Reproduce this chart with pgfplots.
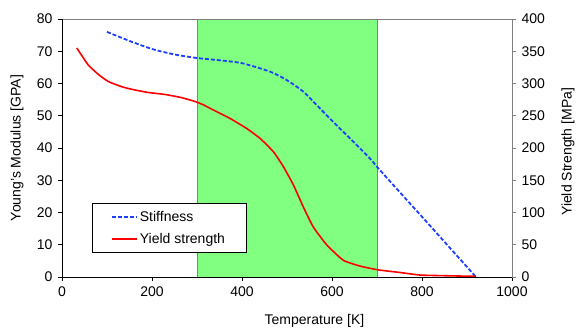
\documentclass[border=0pt]{standalone}
\usepackage{fontspec}
\setmainfont{Liberation Sans}
\usepackage{pgfplots}
\pgfplotsset{compat=1.18}
\definecolor{stiffblue}{HTML}{1F3FFF}
\definecolor{ysred}{HTML}{FF0000}
\definecolor{zonegreen}{HTML}{80FF80}
\definecolor{zoneedge}{HTML}{6A84B8}
\definecolor{axgray}{HTML}{808080}
\begin{document}
\begin{tikzpicture}
\path[use as bounding box] (-62pt,-51pt) rectangle (514pt,277pt);
\begin{axis}[
  scale only axis, width=450pt, height=258pt,
  xmin=0, xmax=1000, ymin=0, ymax=80,
  axis x line*=bottom, axis y line*=left,
  xtick={0,200,...,1000}, ytick={0,10,...,80},
  tick align=outside, major tick length=4pt,
  tick style={black, line width=0.6pt},
  axis line style={black, line width=0.8pt},
  /pgf/number format/assume math mode=true,
  /pgf/number format/1000 sep={},
  ticklabel style={font=\fontsize{14}{16}\selectfont},
  xticklabel style={yshift=-2pt},
  yticklabel style={xshift=-2pt},
  every axis x label/.style={at={(axis description cs:0.561,-0.1705)}, anchor=center, font=\fontsize{14}{16}\selectfont},
  every axis y label/.style={at={(axis description cs:-0.1,0.5)}, rotate=90, anchor=center, font=\fontsize{14}{16}\selectfont},
  xlabel={Temperature [K]},
  ylabel={Young's Modulus [GPA]},
  axis on top,
  clip=false,
]
\addplot[fill=zonegreen, draw=none, forget plot] coordinates {(300,0) (300,80) (700,80) (700,0)} --cycle;
\addplot[zoneedge, line width=1pt, forget plot] coordinates {(300,0) (300,80)};
\addplot[zoneedge, line width=1pt, forget plot] coordinates {(700,0) (700,80)};
\draw[axgray, line width=0.8pt] (rel axis cs:0,1) -- (rel axis cs:1,1);
\addplot[stiffblue, line width=1.8pt, dash pattern=on 4pt off 2pt, smooth, tension=0.4] coordinates {
(100,76.0) (150,73.2) (200,70.7) (250,69.0) (300,67.9) (350,67.2) (400,66.3)
(462,63.7) (499,61.1) (536,57.5) (573,52.3) (610,47.1) (647,42.0) (684,36.8)
(703,33.7) (750,26.4) (796,19.3) (850,10.9) (920,0.0)
};
\end{axis}
\begin{axis}[
  scale only axis, width=450pt, height=258pt,
  xmin=0, xmax=1000, ymin=0, ymax=400,
  axis x line=none, axis y line*=right,
  ytick={0,50,...,400},
  tick align=outside, major tick length=4pt,
  tick style={axgray, line width=0.6pt},
  axis line style={axgray, line width=0.8pt},
  /pgf/number format/assume math mode=true,
  ticklabel style={font=\fontsize{14}{16}\selectfont},
  yticklabel style={xshift=2pt},
  every axis y label/.style={at={(axis description cs:1.1244,0.485)}, rotate=90, anchor=center, font=\fontsize{14}{16}\selectfont},
  ylabel={Yield Strength [MPa]},
  legend style={at={(axis description cs:0.066,0.092)}, anchor=south west,
    draw=black, line width=0.8pt, fill=white, font=\fontsize{14}{16}\selectfont,
    row sep=6pt, inner xsep=19pt, inner ysep=6pt},
  legend cell align=left,
]
\addlegendimage{legend image code/.code={\draw[stiffblue, line width=1.8pt, dash pattern=on 4pt off 2pt] (0pt,0pt) -- (25pt,0pt);}}
\addlegendentry{Stiffness}
\addplot[ysred, line width=1.6pt, smooth, tension=0.3,
  legend image code/.code={\draw[ysred, line width=1.6pt] (0pt,0pt) -- (25pt,0pt);}] coordinates {
(33,355) (58,329) (81,314) (103,303) (133,295) (155,291) (192,286) (229,283)
(266,278) (296,272) (314,267) (336,259) (373,246) (411,230) (440,215)
(470,194) (492,171) (514,143) (536,109) (558,78) (588,50) (625,26)
(662,17) (703,11) (751,7) (796,3) (850,2) (920,1)
};
\addlegendentry{Yield strength\hspace{6pt}}
\end{axis}
\end{tikzpicture}
\end{document}
